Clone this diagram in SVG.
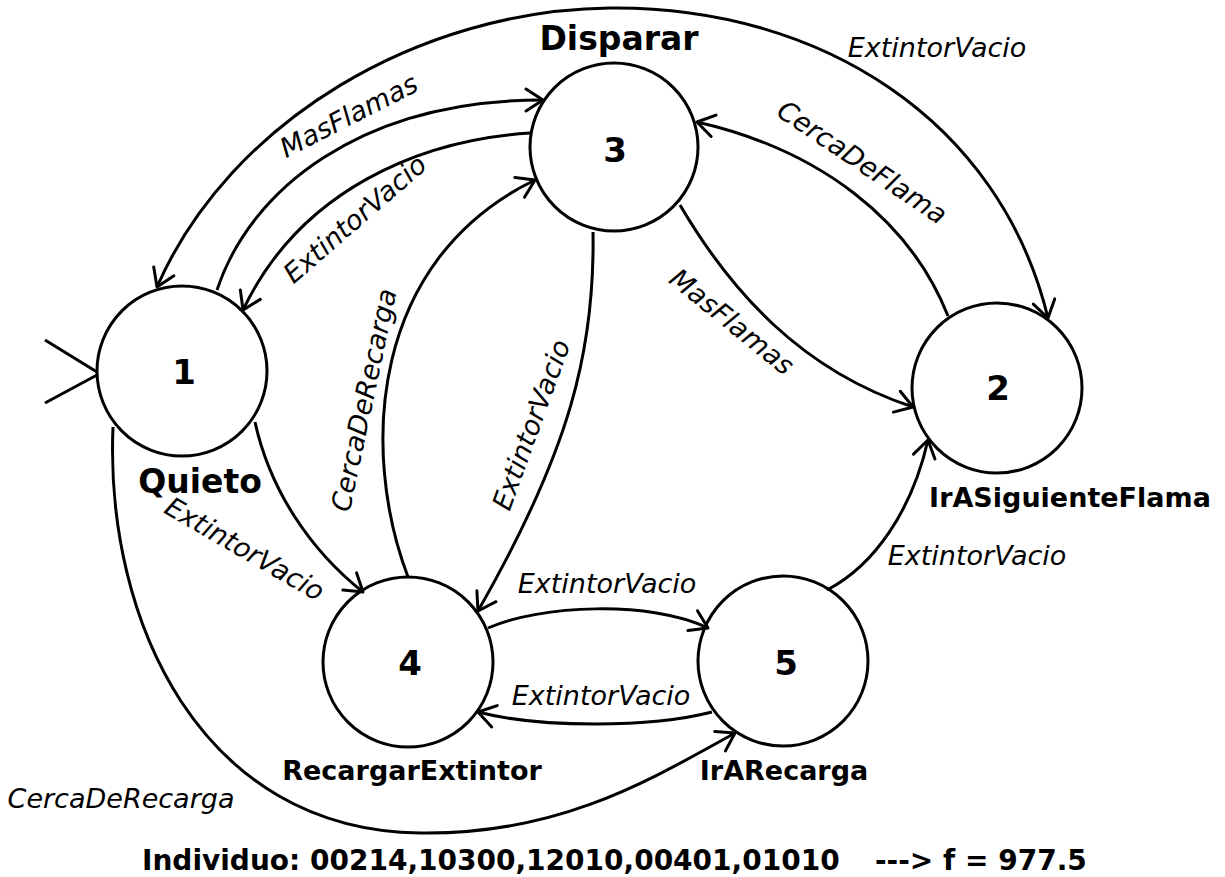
<svg xmlns="http://www.w3.org/2000/svg" width="1225" height="877" viewBox="0 0 1225 877">
  <style>
    .state circle { fill: #ffffff; stroke: #000000; stroke-width: 3; }
    .num { font-family: "DejaVu Sans", Verdana, sans-serif; font-weight: bold; font-size: 34px; text-anchor: middle; fill: #000; }
    .name { font-family: "DejaVu Sans", Verdana, sans-serif; font-weight: bold; font-size: 27px; text-anchor: middle; fill: #000; }
    .big { font-size: 33px; }
    .edge { fill: none; stroke: #000000; stroke-width: 3; marker-end: url(#arrow); }
    .lbl { font-family: "DejaVu Sans", Verdana, sans-serif; font-style: italic; font-size: 27px; text-anchor: middle; fill: #000; }
    .foot { font-family: "DejaVu Sans", Verdana, sans-serif; font-weight: bold; font-size: 28px; fill: #000; }
  </style>
  <defs>
    <marker id="arrow" markerUnits="userSpaceOnUse" markerWidth="40" markerHeight="40" refX="0" refY="0" viewBox="-22 -20 30 40" orient="auto">
      <path d="M-17,-11 L0,0 L-17,11" fill="none" stroke="#000" stroke-width="3" stroke-linecap="round" stroke-linejoin="round"/>
    </marker>
    <marker id="arrowStart" markerUnits="userSpaceOnUse" markerWidth="40" markerHeight="40" refX="0" refY="0" viewBox="-22 -20 30 40" orient="auto-start-reverse">
      <path d="M-17,-11 L0,0 L-17,11" fill="none" stroke="#000" stroke-width="3" stroke-linecap="round" stroke-linejoin="round"/>
    </marker>
  </defs>
  <rect width="1225" height="877" fill="#ffffff"/>

  <!-- states -->
  <g id="state1" class="state">
    <circle cx="182" cy="371" r="85"/>
    <text class="num" x="184" y="384">1</text>
    <text class="name big" x="200" y="493">Quieto</text>
  </g>
  <g id="state2" class="state">
    <circle cx="997" cy="388" r="85"/>
    <text class="num" x="998" y="400">2</text>
    <text class="name" x="1070" y="507">IrASiguienteFlama</text>
  </g>
  <g id="state3" class="state">
    <circle cx="614" cy="147" r="84"/>
    <text class="num" x="615" y="162">3</text>
    <text class="name big" x="619" y="50">Disparar</text>
  </g>
  <g id="state4" class="state">
    <circle cx="408" cy="662" r="85"/>
    <text class="num" x="410" y="675">4</text>
    <text class="name" x="412" y="780">RecargarExtintor</text>
  </g>
  <g id="state5" class="state">
    <circle cx="783" cy="661" r="85"/>
    <text class="num" x="786" y="675">5</text>
    <text class="name" x="784" y="780">IrARecarga</text>
  </g>

  <!-- transitions -->
  <g id="connectors">
    <!-- initial state mark -->
    <path d="M45,340 L97,372 M45,403 L97,375" fill="none" stroke="#000" stroke-width="3"/>

    <!-- outer arc 1 <-> 2 -->
    <path class="edge" style="marker-start:url(#arrowStart)" d="M157,287 C230,120 420,10 610,8 C820,6 1000,120 1048,318"/>
    <text class="lbl" x="353" y="124" transform="rotate(-27 353 124)">MasFlamas</text>
    <text class="lbl" x="937" y="57">ExtintorVacio</text>

    <!-- 1 -> 3 -->
    <path class="edge" d="M217,290 C250,190 360,100 543,100"/>

    <!-- 3 -> 1 -->
    <path class="edge" d="M530,133 C420,140 300,190 243,310"/>
    <text class="lbl" x="361" y="226" transform="rotate(-41 361 226)">ExtintorVacio</text>

    <!-- 4 -> 3 -->
    <path class="edge" d="M408,577 C360,450 370,260 535,180"/>
    <text class="lbl" x="373" y="402" transform="rotate(-78 373 402)">CercaDeRecarga</text>

    <!-- 2 -> 3 -->
    <path class="edge" d="M948,316 C910,220 820,150 697,122"/>
    <text class="lbl" x="857" y="170" transform="rotate(34 857 170)">CercaDeFlama</text>

    <!-- 3 -> 2 -->
    <path class="edge" d="M680,205 C730,290 800,370 913,407"/>
    <text class="lbl" x="726" y="329" transform="rotate(39 726 329)">MasFlamas</text>

    <!-- 3 -> 4 -->
    <path class="edge" d="M593,232 C595,350 570,450 478,611"/>
    <text class="lbl" x="540" y="428" transform="rotate(-70 540 428)">ExtintorVacio</text>

    <!-- 1 -> 4 -->
    <path class="edge" d="M255,422 C270,490 310,550 363,592"/>
    <text class="lbl" x="240" y="557" transform="rotate(30 240 557)">ExtintorVacio</text>

    <!-- 1 -> 5 -->
    <path class="edge" d="M113,427 C105,620 200,830 420,833 C560,835 650,780 735,733"/>
    <text class="lbl" x="121" y="808">CercaDeRecarga</text>

    <!-- 4 -> 5 -->
    <path class="edge" d="M488,628 C540,605 650,600 708,628"/>
    <text class="lbl" x="607" y="593">ExtintorVacio</text>

    <!-- 5 -> 4 -->
    <path class="edge" d="M712,712 C650,728 540,728 478,712"/>
    <text class="lbl" x="601" y="705">ExtintorVacio</text>

    <!-- 5 -> 2 -->
    <path class="edge" d="M827,590 C875,565 912,510 928,440"/>
    <text class="lbl" x="977" y="565">ExtintorVacio</text>
  </g>

  <!-- footer -->
  <text class="foot" x="142" y="870">Individuo: 00214,10300,12010,00401,01010</text>
  <text class="foot" x="875" y="870">---&gt; f = 977.5</text>
</svg>
